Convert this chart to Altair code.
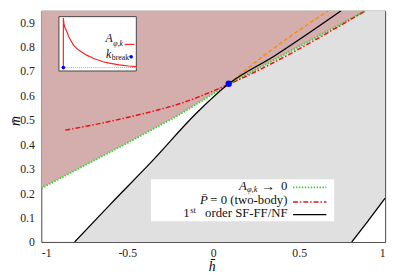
import altair as alt
import pandas as pd

FONT = "Liberation Serif"
Y_TOP = 0.947

# ---- axis ticks ----
h_ticks = [-1, -0.5, 0, 0.5, 1]
m_ticks = [0, 0.1, 0.2, 0.3, 0.4, 0.5, 0.6, 0.7, 0.8, 0.9]

# ---- main curves (h-bar, m-bar) ----
green_h = [-1.0, -0.5, -0.2, 0.09, 0.886]
green_m = [0.22, 0.405, 0.52, 0.646, 0.947]

red_h = [-0.86, -0.517, -0.138, 0.09, 0.886]
red_m = [0.458, 0.507, 0.58, 0.646, 0.947]

sf1_h = [-0.806, -0.6, -0.35, -0.1, 0.09, 0.356, 0.744]
sf1_m = [0.0, 0.153, 0.335, 0.526, 0.648, 0.762, 0.947]

sf2_h = [0.806, 0.9, 1.0]
sf2_m = [0.0, 0.085, 0.18]

orange_h = [0.09, 0.28, 0.47, 0.67]
orange_m = [0.648, 0.755, 0.853, 0.947]

crit_h = [0.09]
crit_m = [0.648]

# gray region boundary: first-order line, then along the top edge
gray_h = sf1_h + [1.0]
gray_m = sf1_m + [Y_TOP]

# ---- inset curve (k, A) ----
inset_k = [0.057, 0.057, 0.065, 0.08, 0.105, 0.13, 0.19, 0.25, 0.358, 0.45, 0.57, 0.65, 0.78, 0.9, 1.0]
inset_A = [0.063, 0.973, 0.86, 0.79, 0.712, 0.62, 0.472, 0.39, 0.292, 0.23, 0.171, 0.145, 0.112, 0.092, 0.081]
base_k = [0.057, 1.0]
base_A = [0.063, 0.063]
kbreak_k = [0.057]
kbreak_A = [0.063]

# ---- legend labels ----
leg_labels = ["A", "φ,k", "→", "0", "P̄", "= 0 (two-body)", "1", "st", "order SF-FF/NF"]
inset_labels = ["A", "φ,k", "k", "break"]

# inset box in plot pixels
IX0, IX1, IY0, IY1 = 18, 97, 6, 61.5


def df(xs, ys, xn="h", yn="m", base=None):
    d = pd.DataFrame({xn: xs, yn: ys, "i": list(range(len(xs)))})
    if base is not None:
        d["m2"] = [base] * len(xs)
    return d


xs = alt.Scale(domain=[-1, 1], nice=False, zero=False)
ys = alt.Scale(domain=[0, Y_TOP], nice=False, zero=False)

X = alt.X("h:Q", scale=xs, axis=alt.Axis(
    values=h_ticks, labelExpr="toString(datum.value)", title="h̄",
    titleFont=FONT, titleFontSize=14, titleFontStyle="italic", titleFontWeight="normal",
    titleX=174, titleY=29, titleAlign="center", titleBaseline="alphabetic",
    labelFont=FONT, labelFontSize=12, labelPadding=6, labelColor="#222",
    ticks=False, domain=False, grid=False))
Y = alt.Y("m:Q", scale=ys, axis=alt.Axis(
    values=m_ticks, labelExpr="toString(datum.value)", title="m̄",
    titleFont=FONT, titleFontSize=14, titleFontStyle="italic", titleFontWeight="normal",
    titleAngle=270, titleX=-22, titleY=112, titleAlign="center", titleBaseline="alphabetic",
    labelFont=FONT, labelFontSize=12, labelPadding=7, labelColor="#222",
    ticks=False, domain=False, grid=False))
Y2 = alt.Y2("m2:Q")

gray = alt.Chart(df(gray_h, gray_m, base=0.0)).mark_area(color="#e0e0e0", clip=True, opacity=1).encode(
    x=X, y=Y, y2=Y2)
pink = alt.Chart(df(green_h, green_m, base=Y_TOP)).mark_area(color="#d4adad", clip=True, opacity=1).encode(
    x=X, y=Y, y2=Y2)
white = alt.Chart(df(sf2_h, sf2_m, base=0.0)).mark_area(color="white", clip=True, opacity=1).encode(
    x=X, y=Y, y2=Y2)

green = alt.Chart(df(green_h, green_m)).mark_line(
    color="#3cd23c", strokeDash=[1.5, 1.5], strokeWidth=2, clip=True).encode(x=X, y=Y, order="i:Q")
red = alt.Chart(df(red_h, red_m)).mark_line(
    color="#ee1111", strokeDash=[5, 2, 1.5, 2], strokeWidth=1.5, clip=True,
    interpolate="monotone").encode(x=X, y=Y, order="i:Q")
orange = alt.Chart(df(orange_h, orange_m)).mark_line(
    color="#ff8c00", strokeDash=[4, 2.5], strokeWidth=1.5, clip=True,
    interpolate="monotone").encode(x=X, y=Y, order="i:Q")
black1 = alt.Chart(df(sf1_h, sf1_m)).mark_line(
    color="black", strokeWidth=1.3, clip=True, interpolate="monotone").encode(x=X, y=Y, order="i:Q")
black2 = alt.Chart(df(sf2_h, sf2_m)).mark_line(
    color="black", strokeWidth=1.3, clip=True).encode(x=X, y=Y, order="i:Q")
crit = alt.Chart(df(crit_h, crit_m)).mark_circle(color="#0000ff", size=42, opacity=1).encode(x=X, y=Y)

main = alt.layer(gray, pink, white, green, red, orange, black1, black2, crit)

# ---- inset ----
one = pd.DataFrame({"a": [0]})
IXe = alt.X("k:Q", scale=alt.Scale(domain=[0, 1], range=[IX0, IX1], nice=False, zero=False), axis=None)
IYe = alt.Y("A:Q", scale=alt.Scale(domain=[0, 1], range=[IY1, IY0], nice=False, zero=False), axis=None)

box = alt.Chart(one).mark_rect(fill="white", stroke="#444", strokeWidth=1).encode(
    x=alt.value(IX0), x2=alt.value(IX1), y=alt.value(IY0), y2=alt.value(IY1))
base = alt.Chart(df(base_k, base_A, "k", "A")).mark_line(
    color="#aaaaaa", strokeDash=[1, 1], strokeWidth=1).encode(x=IXe, y=IYe, order="i:Q")
curve = alt.Chart(df(inset_k, inset_A, "k", "A")).mark_line(
    color="#ff2020", strokeWidth=1.2, interpolate="linear").encode(x=IXe, y=IYe, order="i:Q")
kdot = alt.Chart(df(kbreak_k, kbreak_A, "k", "A")).mark_circle(color="#0000ff", size=14, opacity=1).encode(x=IXe, y=IYe)

inset = alt.layer(box, base, curve, kdot)


def txt(s, x, y, size=13, align="right", italic=False, baseline="alphabetic"):
    return alt.Chart(one).mark_text(
        text=s, align=align, baseline=baseline, font=FONT, fontSize=size,
        fontStyle="italic" if italic else "normal", color="#111").encode(
        x=alt.value(x), y=alt.value(y))


def seg(x1, x2, y, color, dash=None, width=1.5):
    kw = dict(color=color, strokeWidth=width)
    if dash:
        kw["strokeDash"] = dash
    return alt.Chart(one).mark_rule(**kw).encode(x=alt.value(x1), x2=alt.value(x2), y=alt.value(y))


inset_leg = [
    txt(inset_labels[0], 73, 32, size=12, italic=True),
    txt(inset_labels[1], 73.5, 35.5, size=8, align="left", italic=True),
    seg(85, 95, 34.3, "#ff2020", width=1.2),
    txt(inset_labels[2], 71.5, 48.5, size=12, italic=True),
    txt(inset_labels[3], 72, 50.5, size=8, align="left"),
    alt.Chart(one).mark_circle(color="#0000ff", size=14, opacity=1).encode(
        x=alt.value(91.7), y=alt.value(47)),
]

legend = [
    alt.Chart(one).mark_rect(fill="white").encode(
        x=alt.value(112), x2=alt.value(299), y=alt.value(172), y2=alt.value(215)),
    txt(leg_labels[0], 209.7, 183, italic=True),
    txt(leg_labels[1], 210, 185, size=8.5, align="left", italic=True),
    txt(leg_labels[2], 231.4, 179.5, size=14, align="center", baseline="middle"),
    txt(leg_labels[3], 251.3, 183),
    seg(257, 291, 180.3, "#3cd23c", [1.5, 1.5], 2),
    txt(leg_labels[4], 170, 197, italic=True),
    txt(leg_labels[5], 251.3, 197),
    seg(257, 291, 195.3, "#ee1111", [5, 2, 1.5, 2], 1.5),
    txt(leg_labels[6], 151.3, 211),
    txt(leg_labels[7], 152, 206, size=8.5, align="left"),
    txt(leg_labels[8], 251.3, 211),
    seg(257, 291, 208, "black", None, 1.3),
]

chart = alt.layer(main, inset, *inset_leg, *legend).resolve_scale(
    x="independent", y="independent"
).properties(
    width=351, height=236,
    autosize=alt.AutoSizeParams(type="none"),
    padding={"left": 34, "top": 0, "right": 6, "bottom": 35},
).configure_view(stroke="#444", strokeWidth=1)

chart.save("out.html", embed_options={"renderer": "svg", "actions": False})
